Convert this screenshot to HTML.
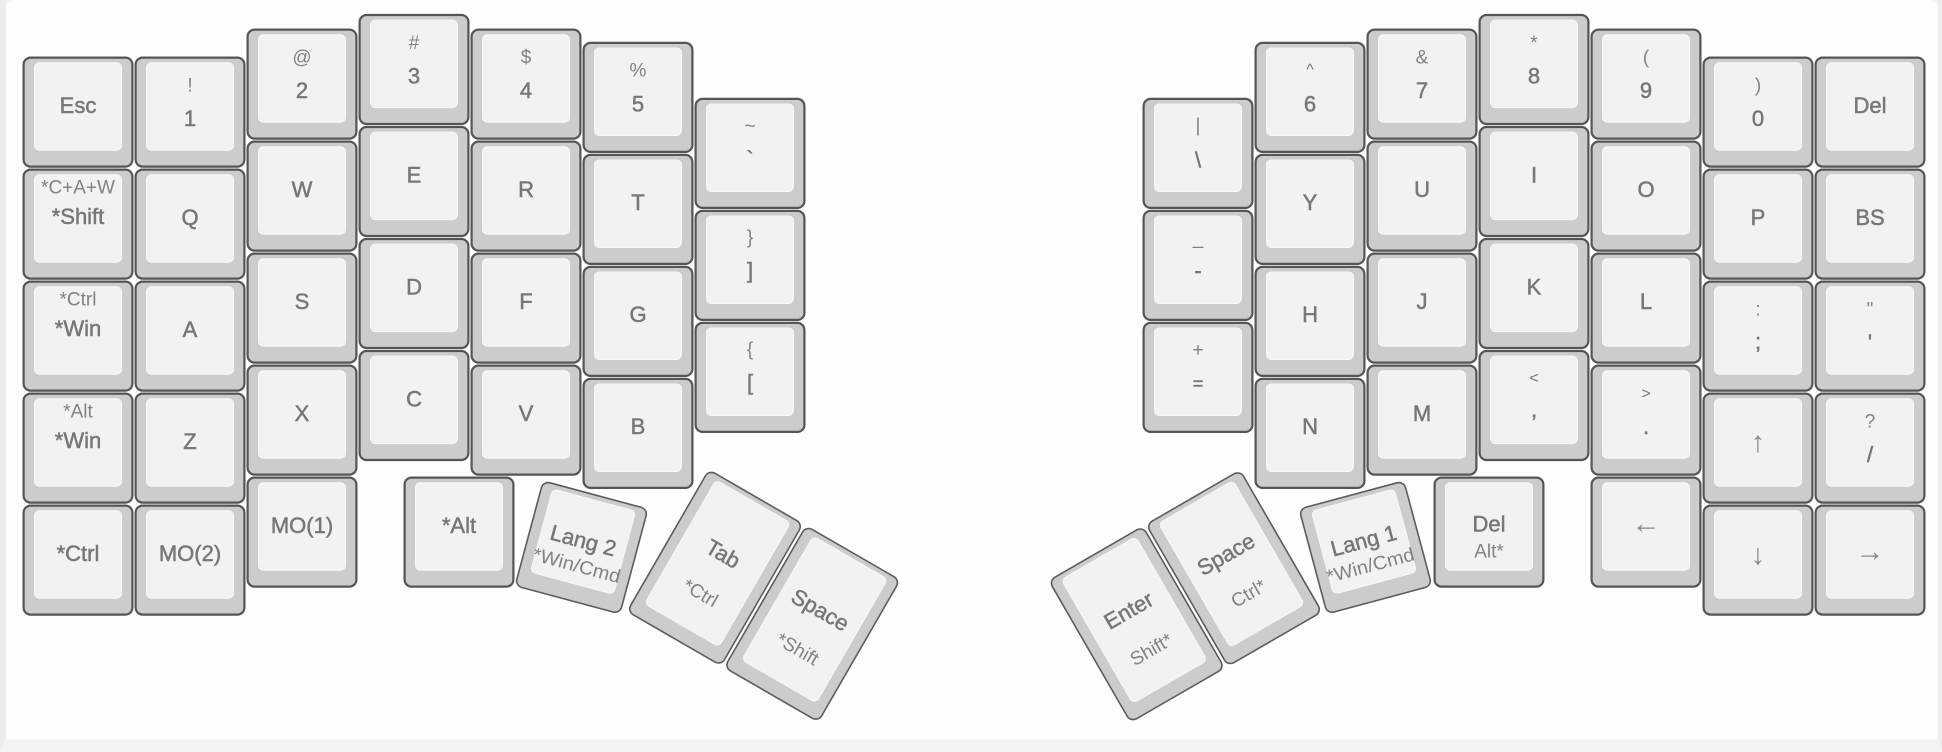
<!DOCTYPE html>
<html><head><meta charset="utf-8"><style>
html,body{margin:0;padding:0;background:#f3f3f3;width:1942px;height:752px;overflow:hidden}
svg{display:block}
text{font-family:"Liberation Sans",sans-serif;text-anchor:middle}
.m{font-size:22px;fill:#777;stroke:#777;stroke-width:.5px}
.s{font-size:19px;fill:#828282}
.t{font-size:16px;fill:#777}
.a{font-size:29px;fill:#888}
</style></head><body>
<svg width="1942" height="752" viewBox="0 0 1942 752" xmlns="http://www.w3.org/2000/svg">
<defs>
<g id="k"><rect x="-54.4" y="1.2" width="108.8" height="109" rx="7" fill="#ccc" stroke="#555" stroke-width="2.2"/><rect x="-43.5" y="6.3" width="87" height="87.5" rx="5" fill="#f2f2f2" stroke="#f7f7f7" stroke-width="1"/></g>
<g id="l"><rect x="-54.2" y=".8" width="108.4" height="108.4" rx="7" fill="#ccc" stroke="#5c5c5c" stroke-width="1.6"/><rect x="-43" y="6" width="86" height="86" rx="5" fill="#f2f2f2" stroke="#f7f7f7" stroke-width="1"/></g>
<g id="t"><rect x="-54.2" y=".8" width="108.4" height="163.4" rx="7" fill="#ccc" stroke="#5c5c5c" stroke-width="1.6"/><rect x="-43" y="6" width="86" height="143" rx="5" fill="#f2f2f2" stroke="#f7f7f7" stroke-width="1"/></g>
</defs>
<polygon points="0,0 6,0 6,739.5 0,752" fill="#ededed"/>
<polygon points="1942,0 1938,0 1938,739.5 1942,752" fill="#efefef"/>
<polygon points="0,752 6,739.5 1938,739.5 1942,752" fill="#f4f4f4"/>
<path d="M6 739.5V8Q6 0 14 0H1930Q1938 0 1938 8V739.5Z" fill="#fdfdfd"/>

<g transform="translate(78,56.4)"><use href="#k"/><text class="m" y="56.5">Esc</text></g>
<g transform="translate(78,168.4)"><use href="#k"/><text class="s" y="25">*C+A+W</text><text class="m" y="55.7">*Shift</text></g>
<g transform="translate(78,280.4)"><use href="#k"/><text class="s" y="25">*Ctrl</text><text class="m" y="55.7">*Win</text></g>
<g transform="translate(78,392.4)"><use href="#k"/><text class="s" y="25">*Alt</text><text class="m" y="55.7">*Win</text></g>
<g transform="translate(78,504.4)"><use href="#k"/><text class="m" y="56.5">*Ctrl</text></g>

<g transform="translate(190,56.4)"><use href="#k"/><text class="s" y="35">!</text><text class="m" y="69.7">1</text></g>
<g transform="translate(190,168.4)"><use href="#k"/><text class="m" y="56.5">Q</text></g>
<g transform="translate(190,280.4)"><use href="#k"/><text class="m" y="56.5">A</text></g>
<g transform="translate(190,392.4)"><use href="#k"/><text class="m" y="56.5">Z</text></g>
<g transform="translate(190,504.4)"><use href="#k"/><text class="m" y="56.5">MO(2)</text></g>

<g transform="translate(302,28.4)"><use href="#k"/><text class="s" y="35">@</text><text class="m" y="69.7">2</text></g>
<g transform="translate(302,140.4)"><use href="#k"/><text class="m" y="56.5">W</text></g>
<g transform="translate(302,252.4)"><use href="#k"/><text class="m" y="56.5">S</text></g>
<g transform="translate(302,364.4)"><use href="#k"/><text class="m" y="56.5">X</text></g>
<g transform="translate(302,476.4)"><use href="#k"/><text class="m" y="56.5">MO(1)</text></g>

<g transform="translate(414,13.8)"><use href="#k"/><text class="s" y="35">#</text><text class="m" y="69.5">3</text></g>
<g transform="translate(414,125.8)"><use href="#k"/><text class="m" y="56.5">E</text></g>
<g transform="translate(414,237.8)"><use href="#k"/><text class="m" y="56.5">D</text></g>
<g transform="translate(414,349.8)"><use href="#k"/><text class="m" y="56.5">C</text></g>

<g transform="translate(526,28.4)"><use href="#k"/><text class="s" y="35">$</text><text class="m" y="69.7">4</text></g>
<g transform="translate(526,140.4)"><use href="#k"/><text class="m" y="56.5">R</text></g>
<g transform="translate(526,252.4)"><use href="#k"/><text class="m" y="56.5">F</text></g>
<g transform="translate(526,364.4)"><use href="#k"/><text class="m" y="56.5">V</text></g>

<g transform="translate(638,41.7)"><use href="#k"/><text class="s" y="35">%</text><text class="m" y="69.7">5</text></g>
<g transform="translate(638,153.7)"><use href="#k"/><text class="m" y="56.5">T</text></g>
<g transform="translate(638,265.7)"><use href="#k"/><text class="m" y="56.5">G</text></g>
<g transform="translate(638,377.7)"><use href="#k"/><text class="m" y="56.5">B</text></g>

<g transform="translate(750,97.7)"><use href="#k"/><text class="s" y="35">~</text><text class="m" y="69">`</text></g>
<g transform="translate(750,209.7)"><use href="#k"/><text class="s" y="33.7">}</text><text class="m" y="68.5">]</text></g>
<g transform="translate(750,321.7)"><use href="#k"/><text class="s" y="33.7">{</text><text class="m" y="68.5">[</text></g>

<g transform="translate(459,476.4)"><use href="#k"/><text class="m" y="56.5">*Alt</text></g>
<g transform="translate(581.5,547.4) rotate(15) translate(0,-55)"><use href="#l"/><text class="m" y="55.5">Lang 2</text><text class="s" y="80" textLength="90" lengthAdjust="spacingAndGlyphs">*Win/Cmd</text></g>
<g transform="translate(715,567.7) rotate(30) translate(0,-82.5)"><use href="#t"/><text class="m" y="74">Tab</text><text class="s" y="118">*Ctrl</text></g>
<g transform="translate(812.2,623.8) rotate(30) translate(0,-82.5)"><use href="#t"/><text class="m" y="74">Space</text><text class="s" y="118">*Shift</text></g>

<g transform="translate(1136.7,624.3) rotate(-30) translate(0,-82.5)"><use href="#t"/><text class="m" y="74">Enter</text><text class="s" y="118">Shift*</text></g>
<g transform="translate(1234,568.2) rotate(-30) translate(0,-82.5)"><use href="#t"/><text class="m" y="74">Space</text><text class="s" y="118">Ctrl*</text></g>
<g transform="translate(1365.5,547.4) rotate(-15) translate(0,-55)"><use href="#l"/><text class="m" y="55.5">Lang 1</text><text class="s" y="80" textLength="90" lengthAdjust="spacingAndGlyphs">*Win/Cmd</text></g>
<g transform="translate(1489,476.4)"><use href="#k"/><text class="m" y="55.3">Del</text><text class="s" y="81">Alt*</text></g>

<g transform="translate(1198,97.7)"><use href="#k"/><text class="s" y="33.7">|</text><text class="m" y="70">\</text></g>
<g transform="translate(1198,209.7)"><use href="#k"/><text class="s" y="34.3">_</text><text class="m" y="68.5">-</text></g>
<g transform="translate(1198,321.7)"><use href="#k"/><text class="s" y="34.4">+</text><text class="m" style="font-size:18px" y="68">=</text></g>

<g transform="translate(1310,41.7)"><use href="#k"/><text class="t" y="33">^</text><text class="m" y="69.7">6</text></g>
<g transform="translate(1310,153.7)"><use href="#k"/><text class="m" y="56.5">Y</text></g>
<g transform="translate(1310,265.7)"><use href="#k"/><text class="m" y="56.5">H</text></g>
<g transform="translate(1310,377.7)"><use href="#k"/><text class="m" y="56.5">N</text></g>

<g transform="translate(1422,28.4)"><use href="#k"/><text class="s" y="35">&amp;</text><text class="m" y="69.7">7</text></g>
<g transform="translate(1422,140.4)"><use href="#k"/><text class="m" y="56.5">U</text></g>
<g transform="translate(1422,252.4)"><use href="#k"/><text class="m" y="56.5">J</text></g>
<g transform="translate(1422,364.4)"><use href="#k"/><text class="m" y="56.5">M</text></g>

<g transform="translate(1534,13.8)"><use href="#k"/><text class="s" y="35">*</text><text class="m" y="69.5">8</text></g>
<g transform="translate(1534,125.8)"><use href="#k"/><text class="m" y="56.5">I</text></g>
<g transform="translate(1534,237.8)"><use href="#k"/><text class="m" y="56.5">K</text></g>
<g transform="translate(1534,349.8)"><use href="#k"/><text class="t" y="33">&lt;</text><text class="m" y="67">,</text></g>

<g transform="translate(1646,28.4)"><use href="#k"/><text class="s" y="35">(</text><text class="m" y="69.7">9</text></g>
<g transform="translate(1646,140.4)"><use href="#k"/><text class="m" y="56.5">O</text></g>
<g transform="translate(1646,252.4)"><use href="#k"/><text class="m" y="56.5">L</text></g>
<g transform="translate(1646,364.4)"><use href="#k"/><text class="t" y="34.2">&gt;</text><text class="m" y="69.7">.</text></g>
<g transform="translate(1646,476.4)"><use href="#k"/><text class="a" y="56.5">←</text></g>

<g transform="translate(1758,56.4)"><use href="#k"/><text class="s" y="35">)</text><text class="m" y="69.7">0</text></g>
<g transform="translate(1758,168.4)"><use href="#k"/><text class="m" y="56.5">P</text></g>
<g transform="translate(1758,280.4)"><use href="#k"/><text class="s" y="35">:</text><text class="m" y="68.5">;</text></g>
<g transform="translate(1758,392.4)"><use href="#k"/><text class="a" y="59">↑</text></g>
<g transform="translate(1758,504.4)"><use href="#k"/><text class="a" y="59.5">↓</text></g>

<g transform="translate(1870,56.4)"><use href="#k"/><text class="m" y="56.5">Del</text></g>
<g transform="translate(1870,168.4)"><use href="#k"/><text class="m" y="56.5">BS</text></g>
<g transform="translate(1870,280.4)"><use href="#k"/><text class="s" y="35">"</text><text class="m" y="69.7">'</text></g>
<g transform="translate(1870,392.4)"><use href="#k"/><text class="s" y="35">?</text><text class="m" y="69.7">/</text></g>
<g transform="translate(1870,504.4)"><use href="#k"/><text class="a" y="56.5">→</text></g>
</svg>
</body></html>
